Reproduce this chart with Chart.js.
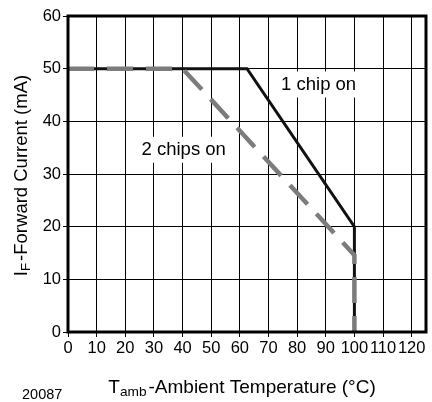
<!DOCTYPE html>
<html>
<head>
<meta charset="utf-8">
<script src="https://cdn.jsdelivr.net/npm/chart.js@4"></script>
<style>
  html, body { margin: 0; padding: 0; background: #fff; }
  #wrap { width: 432px; height: 402px; }
</style>
</head>
<body>
<div id="wrap"><canvas id="derating"></canvas></div>
<script>
// derating curves
const oneChipTemp = [0, 62.5, 100, 100];
const oneChipCurrent = [50, 50, 20, 0];
const twoChipTemp = [0, 40, 100, 100];
const twoChipCurrent = [50, 50, 14.6, 0];

const xTicks = [0, 10, 20, 30, 40, 50, 60, 70, 80, 90, 100, 110, 120];
const yTicks = [0, 10, 20, 30, 40, 50, 60];

const curveLabels = ["1 chip on", "2 chips on"];
const labelTemp = [87.5, 40.4];
const labelCurrent = [47.0, 34.6];

const FONT = "'Liberation Sans', Arial, Helvetica, sans-serif";

function toPoints(xs, ys) {
    return xs.map((x, i) => ({ x: x, y: ys[i] }));
}

// text with a subscript piece, e.g. T + amb
function drawParts(ctx, parts, x, y, size) {
    let total = 0;
    parts.forEach(p => {
        ctx.font = (p.sub ? size * 0.72 : size) + "px " + FONT;
        total += ctx.measureText(p.t).width + (p.sub ? 2 : 0);
    });
    let cx = x - total / 2;
    parts.forEach(p => {
        ctx.font = (p.sub ? size * 0.72 : size) + "px " + FONT;
        ctx.fillText(p.t, cx, p.sub ? y + 3 : y);
        cx += ctx.measureText(p.t).width + (p.sub ? 2 : 0);
    });
}

const extras = {
    id: "extras",
    beforeDatasetsDraw(chart) {
        const ctx = chart.ctx;
        const xs = chart.scales.x;
        const ys = chart.scales.y;
        ctx.save();
        ctx.font = "18.5px " + FONT;
        ctx.textBaseline = "middle";
        ctx.textAlign = "left";
        curveLabels.forEach((txt, i) => {
            const w = ctx.measureText(txt).width;
            const px = xs.getPixelForValue(labelTemp[i]);
            const py = ys.getPixelForValue(labelCurrent[i]);
            ctx.fillStyle = "#fff";
            ctx.fillRect(px - w / 2 - 4, py - 13, w + 8, 26);
            ctx.fillStyle = "#000";
            ctx.fillText(txt, px - w / 2, py);
        });
        ctx.restore();
    },
    afterDraw(chart) {
        const ctx = chart.ctx;
        const a = chart.chartArea;
        ctx.save();
        ctx.strokeStyle = "#000";
        ctx.lineWidth = 3;
        ctx.strokeRect(a.left, a.top, a.right - a.left, a.bottom - a.top);

        ctx.fillStyle = "#000";
        ctx.textBaseline = "alphabetic";
        ctx.textAlign = "left";
        drawParts(ctx, [
            { t: "T" }, { t: "amb", sub: true }, { t: "-Ambient Temperature (°C)" }
        ], 242, 393, 19);

        ctx.translate(27, 175.5);
        ctx.rotate(-Math.PI / 2);
        drawParts(ctx, [
            { t: "I" }, { t: "F", sub: true }, { t: "-Forward Current (mA)" }
        ], 0, 0, 18.5);
        ctx.restore();

        ctx.save();
        ctx.fillStyle = "#000";
        ctx.font = "14.5px " + FONT;
        ctx.fillText("20087", 22, 399);
        ctx.restore();
    }
};

const ctx = document.querySelector('#derating').getContext('2d');
new Chart(ctx, {
    type: 'scatter',
    data: {
        datasets: [{
            label: curveLabels[1],
            data: toPoints(twoChipTemp, twoChipCurrent),
            showLine: true,
            borderColor: "#7c7c7c",
            borderWidth: 4.5,
            borderDash: [26, 13],
            pointRadius: 0,
            tension: 0
        }, {
            label: curveLabels[0],
            data: toPoints(oneChipTemp, oneChipCurrent),
            showLine: true,
            borderColor: "#111",
            borderWidth: 3,
            pointRadius: 0,
            tension: 0
        }]
    },
    options: {
        responsive: true,
        maintainAspectRatio: false,
        animation: false,
        layout: {
            padding: { top: 16, right: 6, left: 0, bottom: 0 }
        },
        plugins: {
            legend: { display: false },
            tooltip: { enabled: false }
        },
        scales: {
            x: {
                type: 'linear',
                min: 0,
                max: 125,
                afterFit: (s) => { s.height = 70; },
                afterBuildTicks: (s) => { s.ticks = xTicks.map(v => ({ value: v })); },
                grid: { color: "#000", lineWidth: 1, tickLength: 5 },
                border: { display: false },
                ticks: {
                    autoSkip: false,
                    maxRotation: 0,
                    padding: 2,
                    color: "#000",
                    font: { family: FONT, size: 16.5 }
                }
            },
            y: {
                type: 'linear',
                min: 0,
                max: 60,
                afterFit: (s) => { s.width = 68; },
                afterBuildTicks: (s) => { s.ticks = yTicks.map(v => ({ value: v })); },
                grid: { color: "#000", lineWidth: 1, tickLength: 5 },
                border: { display: false },
                ticks: {
                    padding: 2,
                    color: "#000",
                    font: { family: FONT, size: 16.5 }
                }
            }
        }
    },
    plugins: [extras]
});
</script>
</body>
</html>
